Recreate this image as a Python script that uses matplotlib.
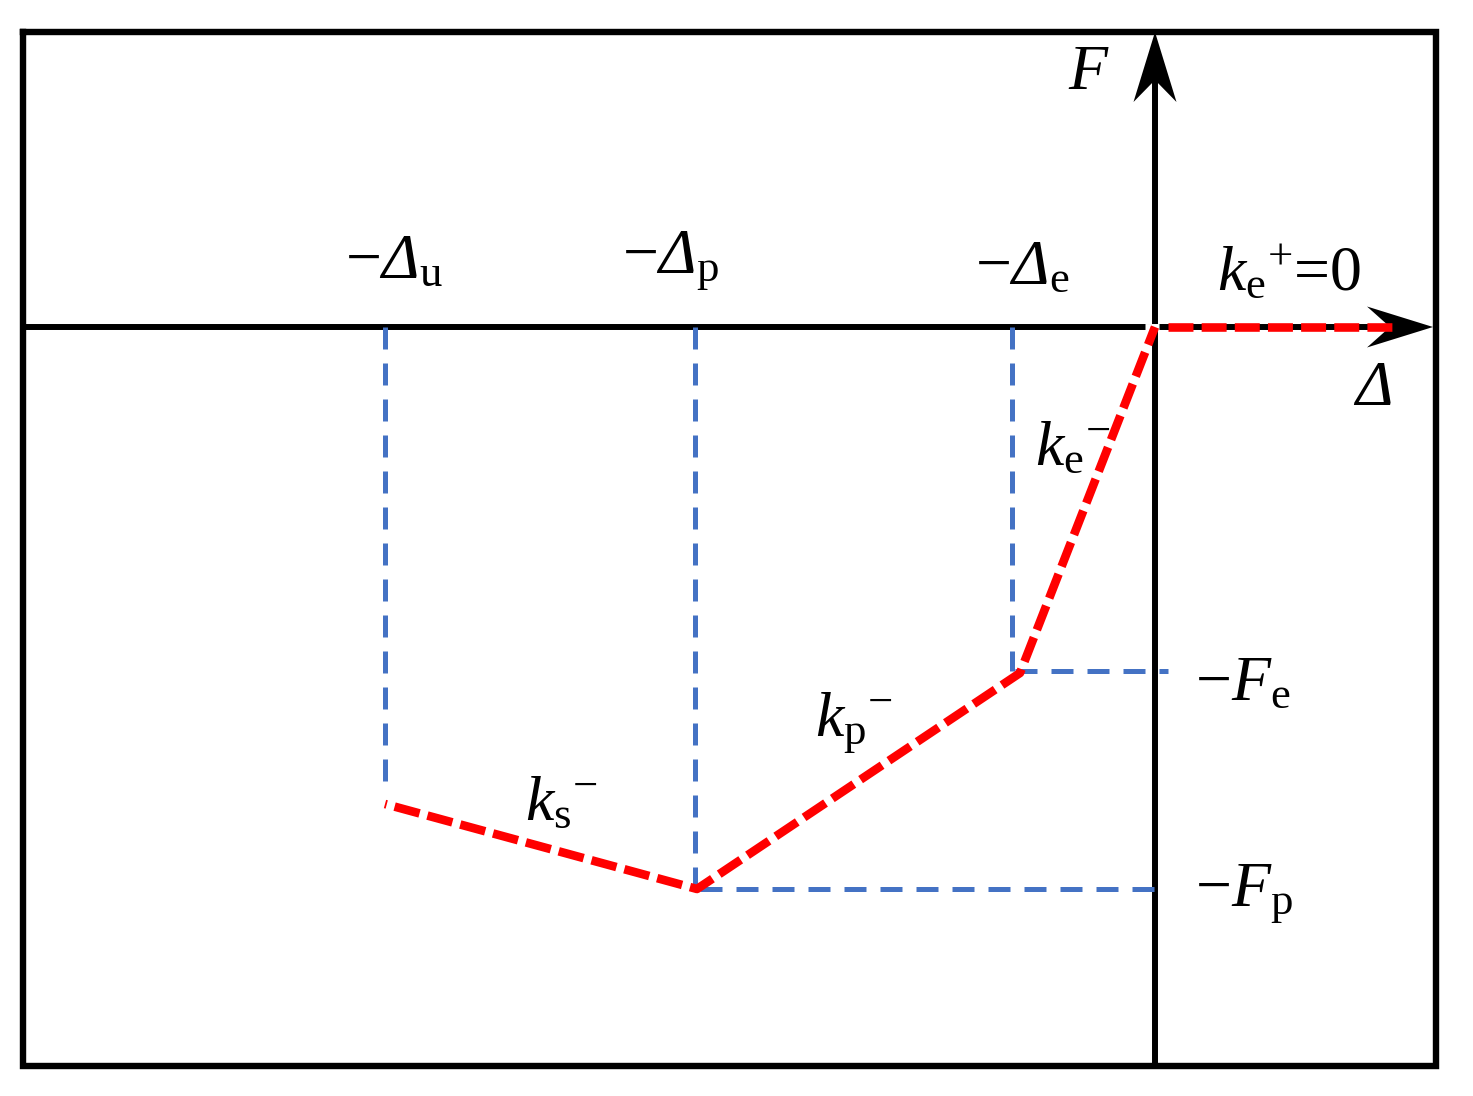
import matplotlib
matplotlib.use("Agg")
import matplotlib.pyplot as plt
from matplotlib.patches import Polygon

plt.rcParams['font.family'] = ['Liberation Serif', 'DejaVu Serif']
plt.rcParams['mathtext.fontset'] = 'custom'
plt.rcParams['mathtext.rm'] = 'Liberation Serif'
plt.rcParams['mathtext.it'] = 'Liberation Serif:italic'
# 'it' forces Greek capitals upright, so italic Delta goes through 'sf'
plt.rcParams['mathtext.sf'] = 'Liberation Serif:italic'

# backbone curve (negative side) and positive branch, 1 unit = 100 px
curve_disp = [0.0, -1.35, -4.58, -7.70]
curve_force = [0.0, -3.46, -5.62, -4.77]
pos_disp = [0.13, 2.40]
pos_force = [0.0, 0.0]

# dashed guide lines
guide_disp = [-7.70, -4.60, -1.43]
guide_disp_end = [-4.68, -5.61, -3.44]
guide_force = [-3.44, -5.62]
guide_force_start = [-1.40, -4.55]
guide_force_end = 0.13

RED = '#ff0000'
BLUE = '#4472c4'

fig = plt.figure(figsize=(14.73, 10.96), dpi=100)
ax = fig.add_axes([0, 0, 1, 1])
ax.set_xlim(-11.55, 3.18)
ax.set_ylim(-7.69, 3.27)
ax.axis('off')

# frame
fx = [-11.32, 2.805, 2.805, -11.32, -11.32]
fy = [2.95, 2.95, -7.39, -7.39, 2.95]
ax.plot(fx, fy, color='black', lw=4.6, solid_joinstyle='miter', zorder=1)

# axes
ax.plot([-11.32, 2.4], [0, 0], color='black', lw=4.3, solid_capstyle='butt', zorder=2)
ax.plot([0, 0], [-7.39, 2.5], color='black', lw=4.3, solid_capstyle='butt', zorder=2)
ax.add_patch(Polygon([[0, 2.95], [0.215, 2.25], [0, 2.47], [-0.215, 2.25]],
                     closed=True, color='black', lw=0, zorder=4))
ax.add_patch(Polygon([[2.78, 0], [2.12, 0.205], [2.35, 0], [2.12, -0.205]],
                     closed=True, color='black', lw=0, zorder=4))

# guides
for x, y1 in zip(guide_disp, guide_disp_end):
    ax.plot([x, x], [0, y1], color=BLUE, lw=3.6, ls=(0, (4.4, 2.8)),
            dash_capstyle='butt', zorder=3)
for y, x0 in zip(guide_force, guide_force_start):
    ax.plot([x0, guide_force_end], [y, y], color=BLUE, lw=3.6, ls=(0, (4.4, 2.8)),
            dash_capstyle='butt', zorder=3)

# small white gap at the origin
ax.plot([-0.1, 0.04], [0.0, 0.0], color='white', lw=5, solid_capstyle='butt', zorder=3)

# red curve
ax.plot(curve_disp, curve_force, color=RED, lw=6.2, ls=(0.8, (3.0, 0.95)),
        dash_capstyle='butt', solid_joinstyle='miter', zorder=5)
ax.plot(pos_disp, pos_force, color=RED, lw=6.2, ls=(0, (2.9, 0.95)),
        dash_capstyle='butt', zorder=5)

fs = 46
kw = dict(fontsize=fs, ha='left', va='baseline', zorder=6)
ax.text(-8.10, 0.49, r'$-\mathsf{Δ}_\mathrm{u}$', **kw)
ax.text(-5.33, 0.55, r'$-\mathsf{Δ}_\mathrm{p}$', **kw)
ax.text(-1.80, 0.43, r'$-\mathsf{Δ}_\mathrm{e}$', **kw)
ax.text(-0.87, 2.38, r'$\mathit{F}$', **kw)
ax.text(1.98, -0.78, r'$\mathsf{Δ}$', **kw)
ax.text(0.62, 0.37, r'$\mathit{k}_\mathrm{e}{}^{+}$=0', **kw)
ax.text(-1.20, -1.38, r'$\mathit{k}_\mathrm{e}{}^{-}$', **kw)
ax.text(-3.40, -4.08, r'$\mathit{k}_\mathrm{p}{}^{-}$', **kw)
ax.text(-6.30, -4.93, r'$\mathit{k}_\mathrm{s}{}^{-}$', **kw)
ax.text(0.40, -3.73, r'$-\mathit{F}_\mathrm{e}$', **kw)
ax.text(0.40, -5.78, r'$-\mathit{F}_\mathrm{p}$', **kw)

fig.savefig('out.png', dpi=100)
